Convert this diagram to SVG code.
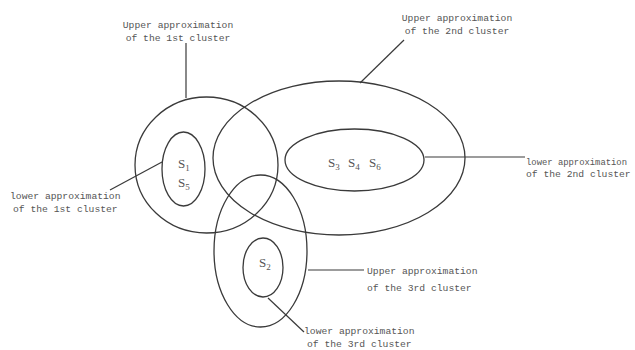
<svg xmlns="http://www.w3.org/2000/svg" width="635" height="350" viewBox="0 0 635 350">
<style>
.e{fill:none;stroke:#3a3a3a;stroke-width:1.3}
.c{fill:none;stroke:#3a3a3a;stroke-width:1.2}
.t{font-family:"Liberation Mono",monospace;font-size:9.7px;fill:#555}
.s{font-family:"Liberation Serif",serif;font-size:13px;fill:#555}
.sub{font-size:9px}
</style>
<rect width="635" height="350" fill="#fff"/>
<g id="upper1"><ellipse class="e" cx="206.5" cy="165" rx="71.5" ry="68"/></g>
<g id="upper2"><ellipse class="e" cx="339" cy="158" rx="126" ry="77"/></g>
<g id="upper3"><ellipse class="e" cx="260.5" cy="251" rx="46.5" ry="76"/></g>
<g id="lower1"><ellipse class="e" cx="183.5" cy="169" rx="21.5" ry="37"/>
<text class="s" x="178" y="168">S<tspan class="sub" dy="3">1</tspan></text>
<text class="s" x="178" y="187">S<tspan class="sub" dy="3">5</tspan></text></g>
<g id="lower2"><ellipse class="e" cx="354.5" cy="160" rx="69.5" ry="31"/>
<text class="s" x="328" y="167">S<tspan class="sub" dy="3">3</tspan></text>
<text class="s" x="348" y="167">S<tspan class="sub" dy="3">4</tspan></text>
<text class="s" x="369" y="167">S<tspan class="sub" dy="3">6</tspan></text></g>
<g id="lower3"><ellipse class="e" cx="263" cy="267.5" rx="20" ry="29.5"/>
<text class="s" x="259" y="267">S<tspan class="sub" dy="3">2</tspan></text></g>
<g id="connectors">
<line class="c" x1="186" y1="43" x2="186" y2="98"/>
<line class="c" x1="404" y1="40" x2="360" y2="83"/>
<line class="c" x1="110" y1="190" x2="162" y2="162"/>
<line class="c" x1="425" y1="157" x2="525" y2="157"/>
<line class="c" x1="308" y1="270" x2="364" y2="270"/>
<line class="c" x1="268" y1="298" x2="304" y2="332"/>
</g>
<g id="labels">
<text class="t" x="178" y="28" text-anchor="middle">Upper approximation</text>
<text class="t" x="178" y="41" text-anchor="middle">of the 1st cluster</text>
<text class="t" x="457" y="21" text-anchor="middle">Upper approximation</text>
<text class="t" x="457" y="34" text-anchor="middle">of the 2nd cluster</text>
<text class="t" x="10" y="199">lower approximation</text>
<text class="t" x="13" y="212">of the 1st cluster</text>
<text class="t" x="526" y="165" textLength="101" lengthAdjust="spacingAndGlyphs">lower approximation</text>
<text class="t" x="526" y="177">of the 2nd cluster</text>
<text class="t" x="367" y="274">Upper approximation</text>
<text class="t" x="367" y="291">of the 3rd cluster</text>
<text class="t" x="304" y="334">lower approximation</text>
<text class="t" x="307" y="347">of the 3rd cluster</text>
</g>
</svg>
